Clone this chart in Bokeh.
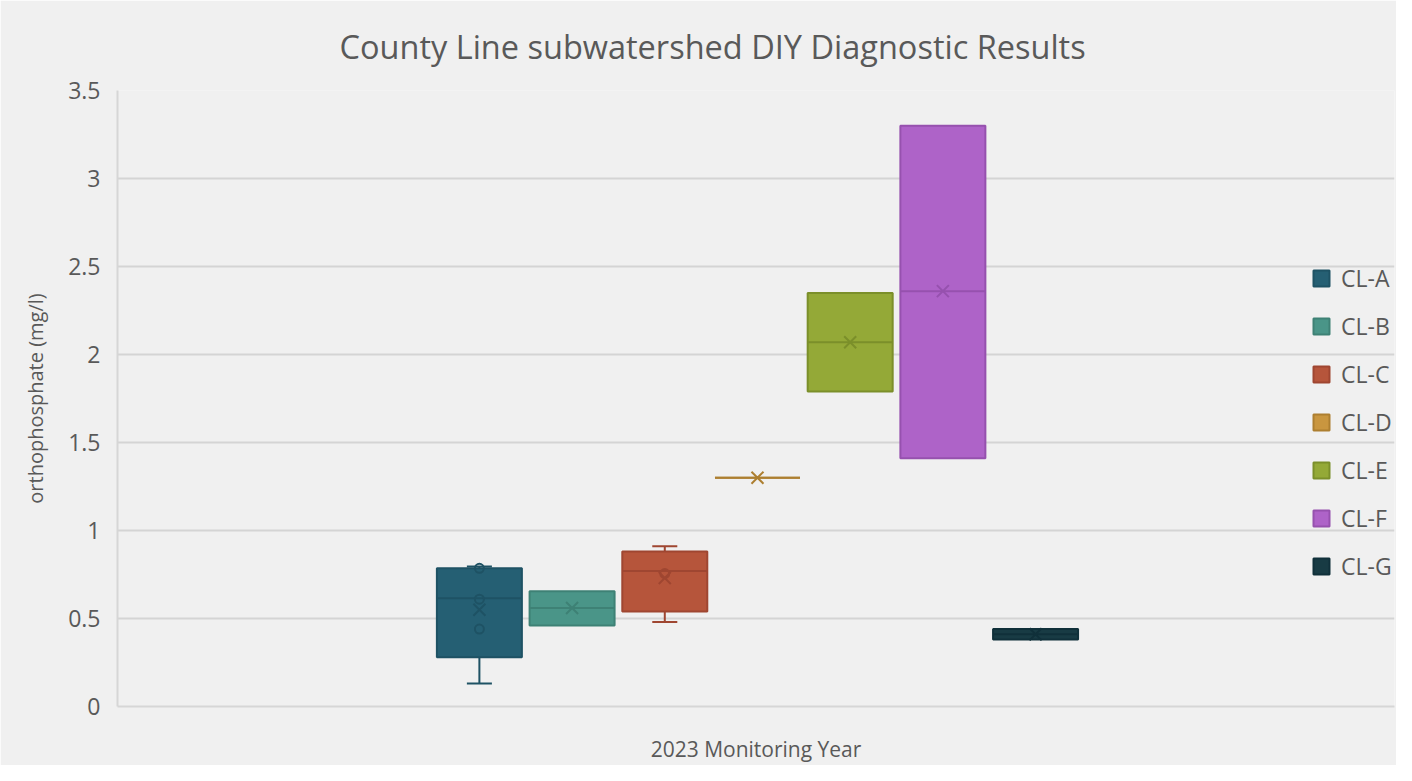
from bokeh.plotting import figure
from bokeh.models import Range1d, FixedTicker, Legend, LegendItem
from bokeh.embed import file_html
from bokeh.resources import INLINE

# ---- data ----
sites = ["CL-A", "CL-B", "CL-C", "CL-D", "CL-E", "CL-F", "CL-G"]
mins = [0.13, 0.46, 0.48, 1.30, 1.79, 1.41, 0.38]
q1 = [0.28, 0.46, 0.54, 1.30, 1.79, 1.41, 0.38]
medians = [0.615, 0.56, 0.77, 1.30, 2.07, 2.36, 0.41]
q3 = [0.785, 0.655, 0.88, 1.30, 2.35, 3.30, 0.44]
maxs = [0.795, 0.655, 0.91, 1.30, 2.35, 3.30, 0.44]
means = [0.55, 0.56, 0.73, 1.30, 2.07, 2.36, 0.41]
# inner points drawn by the chart (site index, value)
pt_site = [0, 0, 0, 2]
pt_vals = [0.785, 0.61, 0.44, 0.755]

fills = ["#255f73", "#4a9588", "#b6553b", "#c9963f", "#94a937", "#ae63c8", "#183b44"]
lines = ["#1e5264", "#3e8175", "#9f4631", "#ad7f30", "#7b8f2a", "#9651ae", "#10303a"]

y_ticks = [0, 0.5, 1, 1.5, 2, 2.5, 3, 3.5]
y_labels = ["0", "0.5", "1", "1.5", "2", "2.5", "3", "3.5"]

TITLE = "County Line subwatershed DIY Diagnostic Results"
TXT = "#595959"
FONT = "Open Sans"

xs = [i - 3 for i in range(len(sites))]
BW = 0.917
CAP = 0.27

p = figure(width=1396, height=765, output_backend="svg", toolbar_location=None,
           x_range=Range1d(-6.904, 6.872), y_range=Range1d(0, 3.5),
           min_border_left=117, min_border_right=2, min_border_top=90, min_border_bottom=59,
           background_fill_color="#f0f0f0", border_fill_color="#f0f0f0",
           outline_line_color=None)

p.title.text = TITLE
p.title.align = "left"
p.title.offset = 222
p.title.text_font = FONT
p.title.text_font_size = "32.5px"
p.title.text_font_style = "normal"
p.title.text_color = TXT
p.title.standoff = 43

# axes
p.xaxis.ticker = FixedTicker(ticks=[])
p.xaxis.axis_label = "2023 Monitoring Year"
p.xaxis.axis_label_text_font = FONT
p.xaxis.axis_label_text_font_size = "21px"
p.xaxis.axis_label_text_font_style = "normal"
p.xaxis.axis_label_text_color = TXT
p.xaxis.axis_label_standoff = 28
p.xaxis.major_tick_out = 0
p.xaxis.major_tick_in = 0
p.xaxis.major_label_standoff = 0
p.xaxis.axis_line_color = "#d6d6d6"
p.xaxis.axis_line_width = 2
p.xaxis.major_tick_line_color = None
p.xaxis.minor_tick_line_color = None

p.yaxis.ticker = FixedTicker(ticks=y_ticks)
p.yaxis.major_label_overrides = {t: l for t, l in zip(y_ticks, y_labels)}
p.yaxis.major_label_text_font = FONT
p.yaxis.major_label_text_font_size = "23px"
p.yaxis.major_label_text_color = TXT
p.yaxis.major_label_standoff = 17
p.yaxis.major_tick_out = 0
p.yaxis.major_tick_in = 0
p.yaxis.minor_tick_out = 0
p.yaxis.major_tick_line_color = None
p.yaxis.minor_tick_line_color = None
p.yaxis.axis_line_color = "#d6d6d6"
p.yaxis.axis_line_width = 2
p.yaxis.axis_label = "orthophosphate (mg/l)"
p.yaxis.axis_label_text_font = FONT
p.yaxis.axis_label_text_font_size = "20px"
p.yaxis.axis_label_text_font_style = "normal"
p.yaxis.axis_label_text_color = TXT
p.yaxis.axis_label_standoff = 16

p.xgrid.grid_line_color = None
p.ygrid.ticker = FixedTicker(ticks=y_ticks[1:])
p.ygrid.grid_line_color = "#d4d4d4"
p.ygrid.grid_line_width = 2

# whiskers
p.segment(x0=xs, y0=q3, x1=xs, y1=maxs, line_color=lines, line_width=2)
p.segment(x0=xs, y0=q1, x1=xs, y1=mins, line_color=lines, line_width=2)
p.segment(x0=[x - CAP / 2 for x in xs], y0=maxs, x1=[x + CAP / 2 for x in xs], y1=maxs,
          line_color=[l if mx > t else None for l, mx, t in zip(lines, maxs, q3)], line_width=2)
p.segment(x0=[x - CAP / 2 for x in xs], y0=mins, x1=[x + CAP / 2 for x in xs], y1=mins,
          line_color=[l if mn < b else None for l, mn, b in zip(lines, mins, q1)], line_width=2)

# boxes
items = []
for i, s in enumerate(sites):
    r = p.vbar(x=[xs[i]], width=BW, bottom=[q1[i]], top=[q3[i]],
               fill_color=fills[i], line_color=lines[i], line_width=2)
    items.append(LegendItem(label=s, renderers=[r]))

# medians
p.segment(x0=[x - BW / 2 for x in xs], y0=medians, x1=[x + BW / 2 for x in xs], y1=medians,
          line_color=lines, line_width=2)

# inner points
p.scatter(x=[xs[i] for i in pt_site], y=pt_vals, marker="circle", size=9,
          fill_alpha=0, line_color=[lines[i] for i in pt_site], line_width=2)

# means
p.scatter(x=xs, y=means, marker="x", size=17, line_color=lines, line_width=2)

legend = Legend(items=items, location=(1194, 124), orientation="vertical",
                glyph_width=20, glyph_height=20, label_height=20, spacing=16,
                padding=0, margin=0, label_standoff=10,
                label_text_font=FONT, label_text_font_size="23px", label_text_color=TXT,
                background_fill_alpha=0, border_line_alpha=0)
p.add_layout(legend)

open("out.html", "w").write(file_html(p, INLINE))
